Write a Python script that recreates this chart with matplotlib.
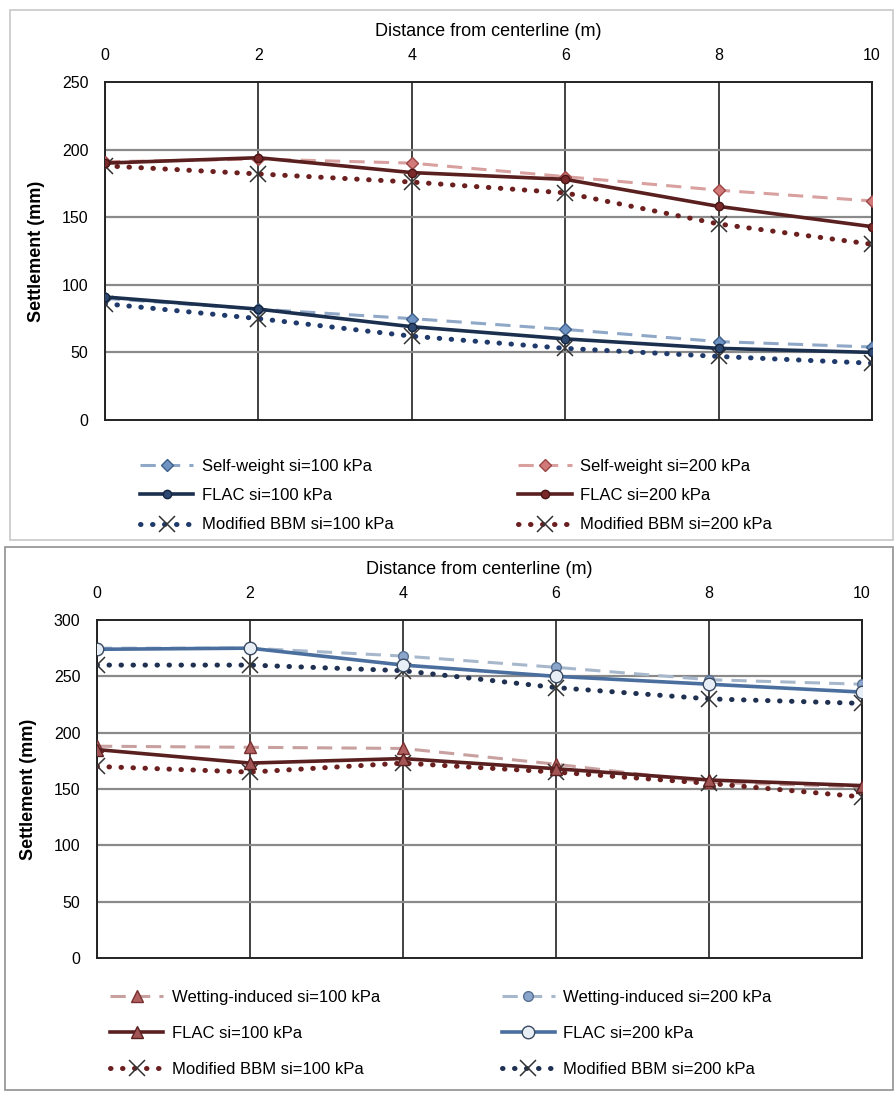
import matplotlib
matplotlib.use("Agg")
import matplotlib.pyplot as plt
from matplotlib.patches import Rectangle

plt.rcParams['font.family'] = ['Liberation Sans', 'DejaVu Sans']

# distance from centerline (m)
dist = [0, 2, 4, 6, 8, 10]

# top panel: self-weight settlement (mm)
sw_100 = [90, 82, 75, 67, 58, 54]
flac_sw_100 = [91, 82, 69, 60, 53, 50]
bbm_sw_100 = [86, 75, 62, 53, 47, 42]
sw_200 = [191, 193, 190, 180, 170, 162]
flac_sw_200 = [190, 194, 183, 178, 158, 143]
bbm_sw_200 = [188, 182, 176, 168, 145, 130]

# bottom panel: wetting-induced settlement (mm)
wet_100 = [188, 187, 186, 172, 156, 152]
flac_wet_100 = [185, 173, 177, 168, 158, 153]
bbm_wet_100 = [170, 165, 173, 165, 155, 143]
wet_200 = [275, 275, 268, 258, 247, 243]
flac_wet_200 = [274, 275, 260, 250, 243, 236]
bbm_wet_200 = [260, 260, 255, 240, 230, 226]

fig = plt.figure(figsize=(8.96, 10.94), dpi=100)

# panel frames
fig.patches.append(Rectangle((10 / 896, 1 - 540 / 1094), 883 / 896, 530 / 1094,
                             transform=fig.transFigure, fill=False, ec='#c8c8c8', lw=1.2))
fig.patches.append(Rectangle((5 / 896, 1 - 1090 / 1094), 888 / 896, 543 / 1094,
                             transform=fig.transFigure, fill=False, ec='#909090', lw=1.2))

DOT = (0, (0.1, 2.3))


def style_axes(ax, ymax):
    ax.set_xlim(0, 10)
    ax.set_ylim(0, ymax)
    ax.set_xticks(dist)
    ax.set_yticks(range(0, ymax + 1, 50))
    ax.xaxis.tick_top()
    ax.xaxis.set_label_position('top')
    ax.tick_params(length=0, labelsize=11.5, pad=14)
    ax.tick_params(axis='y', pad=12)
    ax.set_xlabel('Distance from centerline (m)', fontsize=13, labelpad=8)
    ax.set_ylabel('Settlement (mm)', fontsize=13, fontweight='bold', labelpad=12)
    for x in dist:
        ax.axvline(x, color='#333333', lw=1.3, zorder=1)
    for y in range(50, ymax, 50):
        ax.axhline(y, color='#8a8a8a', lw=1.6, zorder=1)
    for s in ax.spines.values():
        s.set_color('#222222')
        s.set_linewidth(1.4)


# ---- top panel
ax1 = fig.add_axes([105 / 896, 1 - 420 / 1094, 767 / 896, 338 / 1094])
style_axes(ax1, 250)
h1 = ax1.plot(dist, sw_100, ls=(0, (5, 3)), color='#8fa8c8', lw=2.2, marker='D',
              ms=6, mfc='#6f93c2', mec='#3d5f8a', label='Self-weight si=100 kPa', zorder=3)[0]
h2 = ax1.plot(dist, flac_sw_100, ls='-', color='#1b2f4e', lw=2.6, marker='o',
              ms=6, mfc='#2e4a72', mec='#14243d', label='FLAC si=100 kPa', zorder=4)[0]
h3 = ax1.plot(dist, bbm_sw_100, ls=DOT, color='#1f3a6b', lw=3.6, dash_capstyle='round',
              marker='x', ms=11, mec='#333333', mew=1.1,
              label='Modified BBM si=100 kPa', zorder=3)[0]
h4 = ax1.plot(dist, sw_200, ls=(0, (5, 3)), color='#d9a0a0', lw=2.2, marker='D',
              ms=6, mfc='#d27a7a', mec='#9a4444', label='Self-weight si=200 kPa', zorder=3)[0]
h5 = ax1.plot(dist, flac_sw_200, ls='-', color='#5a1f1f', lw=2.6, marker='o',
              ms=6, mfc='#7a2a2a', mec='#4a1515', label='FLAC si=200 kPa', zorder=4)[0]
h6 = ax1.plot(dist, bbm_sw_200, ls=DOT, color='#6b1f1f', lw=3.6, dash_capstyle='round',
              marker='x', ms=11, mec='#333333', mew=1.1,
              label='Modified BBM si=200 kPa', zorder=3)[0]
fig.legend(handles=[h1, h2, h3, h4, h5, h6], ncol=2, frameon=False, fontsize=12,
           loc='upper left', bbox_to_anchor=(125 / 896, 1 - 444 / 1094),
           labelspacing=0.85, columnspacing=7.5, handlelength=3.2, handletextpad=0.5)

# ---- bottom panel
ax2 = fig.add_axes([97 / 896, 1 - 958 / 1094, 765 / 896, 338 / 1094])
style_axes(ax2, 300)
g1 = ax2.plot(dist, wet_100, ls=(0, (5, 3)), color='#c9a0a0', lw=2.2, marker='^',
              ms=8, mfc='#b06060', mec='#7a3030', label='Wetting-induced si=100 kPa', zorder=3)[0]
g2 = ax2.plot(dist, flac_wet_100, ls='-', color='#5a2020', lw=2.6, marker='^',
              ms=8, mfc='#a35555', mec='#5a2020', label='FLAC si=100 kPa', zorder=4)[0]
g3 = ax2.plot(dist, bbm_wet_100, ls=DOT, color='#6b1f1f', lw=3.6, dash_capstyle='round',
              marker='x', ms=11, mec='#333333', mew=1.1,
              label='Modified BBM si=100 kPa', zorder=3)[0]
g4 = ax2.plot(dist, wet_200, ls=(0, (5, 3)), color='#a8b8cc', lw=2.2, marker='o',
              ms=7, mfc='#8aa6cc', mec='#5a7090', label='Wetting-induced si=200 kPa', zorder=3)[0]
g5 = ax2.plot(dist, flac_wet_200, ls='-', color='#4a6f9e', lw=2.6, marker='o',
              ms=9, mfc='#e8eef6', mec='#3a4a60', label='FLAC si=200 kPa', zorder=4)[0]
g6 = ax2.plot(dist, bbm_wet_200, ls=DOT, color='#1f3050', lw=3.6, dash_capstyle='round',
              marker='x', ms=11, mec='#333333', mew=1.1,
              label='Modified BBM si=200 kPa', zorder=3)[0]
fig.legend(handles=[g1, g2, g3, g4, g5, g6], ncol=2, frameon=False, fontsize=12,
           loc='upper left', bbox_to_anchor=(95 / 896, 1 - 975 / 1094),
           labelspacing=1.25, columnspacing=7.3, handlelength=3.2, handletextpad=0.5)

fig.savefig('out.png', dpi=100)
